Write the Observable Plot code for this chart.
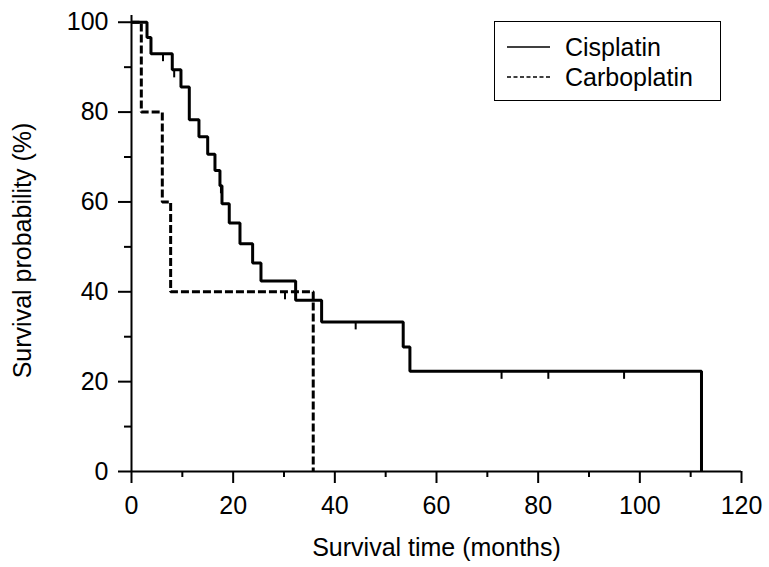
<!DOCTYPE html>
<html><head><meta charset="utf-8">
<script src="https://cdn.jsdelivr.net/npm/d3@7"></script>
<script src="https://cdn.jsdelivr.net/npm/@observablehq/plot@0.6"></script>
<style>
body{margin:0;background:#fff;font-family:"Liberation Sans",Arial,sans-serif;}
#wrap{position:relative;width:769px;height:567px;}
#legend{position:absolute;left:494px;top:21px;width:227px;height:80px;box-sizing:border-box;border:1.5px solid #000;background:#fff;}
#legend .row{position:absolute;left:0;height:30px;display:flex;align-items:center;font-size:25px;color:#000;}
#legend svg{margin-left:12px;margin-right:15px;}
</style></head><body><div id="wrap"></div>
<script>
// Cisplatin Kaplan-Meier steps (months, survival %)
const cisTime = [0, 3.05, 3.83, 8.02, 9.73, 11.37, 13.27, 14.99, 16.42, 17.40, 17.80, 19.23, 21.34, 23.83, 25.47, 32.29, 37.40, 53.45, 54.77, 112.13];
const cisSurv = [100, 96.6, 93.0, 89.4, 85.6, 78.3, 74.5, 70.6, 67.0, 63.6, 59.6, 55.3, 50.7, 46.4, 42.4, 38.1, 33.3, 27.7, 22.3, 0];
const cisCensorTime = [6.2, 8.4, 17.6, 44.1, 72.8, 82.0, 96.9];
const cisCensorSurv = [93.0, 89.4, 63.6, 33.3, 22.3, 22.3, 22.3];
// Carboplatin
const carbTime = [0, 1.93, 6.06, 7.7, 35.75];
const carbSurv = [100, 80, 60, 40, 0];
const carbCensorTime = [30.2];
const carbCensorSurv = [40];
// Axes
const xMajor = [0, 20, 40, 60, 80, 100, 120];
const xMinor = [10, 30, 50, 70, 90, 110];
const yMajor = [0, 20, 40, 60, 80, 100];
const yMinor = [10, 30, 50, 70, 90];
const xTitle = "Survival time (months)";
const yTitle = "Survival probability (%)";
const seriesNames = ["Cisplatin", "Carboplatin"];

const cis = cisTime.map((t, i) => ({t, s: cisSurv[i]}));
const carb = carbTime.map((t, i) => ({t, s: carbSurv[i]}));
const cens = cisCensorTime.map((t, i) => ({t, s: cisCensorSurv[i]}))
  .concat(carbCensorTime.map((t, i) => ({t, s: carbCensorSurv[i]})));

const tickSym = {draw(ctx) { ctx.moveTo(0, 0); ctx.lineTo(0, 7.5); }};

const chart = Plot.plot({
  width: 769, height: 567,
  marginLeft: 131, marginRight: 28, marginTop: 15, marginBottom: 96,
  x: {domain: [0, 120]},
  y: {domain: [0, 101.5]},
  style: {fontFamily: '"Liberation Sans", Arial, sans-serif', fontSize: "25px", color: "#000", background: "#fff"},
  marks: [
    Plot.axisX({ticks: xMajor, tickSize: 12, tickPadding: 13, strokeWidth: 2, label: null, fontSize: 25}),
    Plot.axisX({ticks: xMinor, tickSize: 6, strokeWidth: 2, tickFormat: () => "", label: null}),
    Plot.axisY({ticks: yMajor, tickSize: 13, tickPadding: 10, strokeWidth: 2, label: null, fontSize: 25}),
    Plot.axisY({ticks: yMinor, tickSize: 7, strokeWidth: 2, tickFormat: () => "", label: null}),
    Plot.ruleX([0], {strokeWidth: 2}),
    Plot.ruleY([0], {strokeWidth: 2}),
    Plot.line(carb, {x: "t", y: "s", curve: "step-after", stroke: "#000", strokeWidth: 3,
      strokeDasharray: "8,3", strokeLinejoin: "miter", strokeLinecap: "butt"}),
    Plot.line(cis, {x: "t", y: "s", curve: "step-after", stroke: "#000", strokeWidth: 3,
      strokeLinejoin: "miter", strokeLinecap: "butt"}),
    Plot.dot(cens, {x: "t", y: "s", symbol: tickSym, fill: "none", stroke: "#000", strokeWidth: 2}),
    Plot.text([xTitle], {frameAnchor: "bottom", dy: 84, fontSize: 25, textAnchor: "middle", text: d => d}),
    Plot.text([yTitle], {frameAnchor: "left", dx: -109, dy: 7, rotate: -90, textAnchor: "middle", fontSize: 25, text: d => d})
  ]
});
const wrap = document.getElementById("wrap");
wrap.appendChild(chart);

const legend = document.createElement("div");
legend.id = "legend";
legend.innerHTML = `
<div class="row" style="top:10px"><svg width="43" height="6"><line x1="0" y1="3" x2="43" y2="3" stroke="#000" stroke-width="1.6"/></svg><span>${seriesNames[0]}</span></div>
<div class="row" style="top:40px"><svg width="43" height="6"><line x1="0" y1="3" x2="43" y2="3" stroke="#000" stroke-width="1.6" stroke-dasharray="4,2.5"/></svg><span>${seriesNames[1]}</span></div>`;
wrap.appendChild(legend);
</script>
</body></html>
